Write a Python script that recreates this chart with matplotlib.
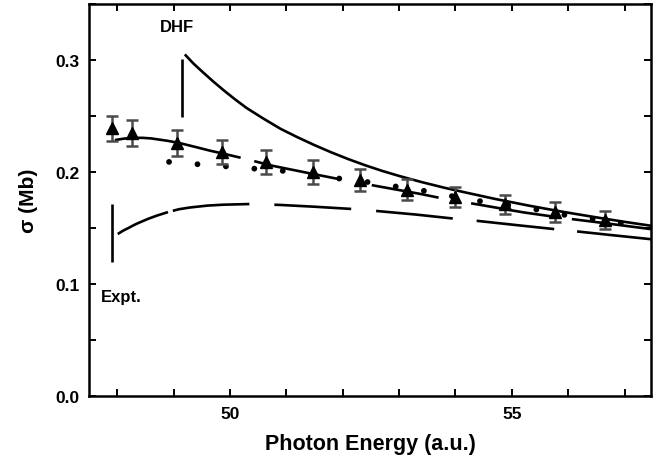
import matplotlib
matplotlib.use('Agg')
import matplotlib.pyplot as plt
from matplotlib.ticker import MultipleLocator, FormatStrFormatter

plt.rcParams['font.family'] = ['Liberation Sans', 'DejaVu Sans']
plt.rcParams['font.weight'] = 'bold'
plt.rcParams['lines.scale_dashes'] = False

# ---- data ----
expt_x = [47.91, 48.27, 49.06, 49.86, 50.64, 51.47, 52.30, 53.14, 53.99, 54.88, 55.76, 56.65]
expt_y = [0.239, 0.235, 0.226, 0.218, 0.209, 0.200, 0.193, 0.184, 0.178, 0.171, 0.164, 0.157]
expt_err = [0.011, 0.0116, 0.0116, 0.0107, 0.0107, 0.0103, 0.0098, 0.0094, 0.0089, 0.0089, 0.0089, 0.0080]

dhf_x = [49.20, 49.35, 49.50, 49.70, 49.90, 50.10, 50.30, 50.60, 50.90, 51.20, 51.50, 51.80,
         52.10, 52.40, 52.70, 53.00, 53.40, 53.80, 54.20, 54.70, 55.30, 55.90, 56.50, 57.00, 57.47]
dhf_y = [0.305, 0.297, 0.290, 0.281, 0.2725, 0.2645, 0.257, 0.2475, 0.2385, 0.231, 0.224, 0.2175,
         0.2115, 0.206, 0.201, 0.1965, 0.191, 0.186, 0.1815, 0.176, 0.170, 0.1645, 0.1595, 0.1555, 0.152]
dhf_thr_x = 49.15
dhf_thr_y = [0.249, 0.301]

dash_x = [47.96, 48.12, 48.28, 48.45, 48.60, 48.90, 49.11, 49.40, 49.65, 49.95, 50.21, 50.76,
          51.40, 52.00, 52.60, 53.37, 53.81, 54.40, 55.20, 55.90, 56.70, 57.47]
dash_y = [0.2285, 0.2298, 0.2305, 0.2305, 0.2300, 0.2278, 0.2258, 0.2222, 0.219, 0.2156, 0.2125, 0.2055,
          0.1990, 0.193, 0.1875, 0.1805, 0.176, 0.171, 0.164, 0.159, 0.154, 0.149]

dot_x = [48.92, 49.41, 49.93, 50.43, 50.94, 51.45, 51.97, 52.45, 52.95, 53.47, 53.98, 54.43,
         55.28, 55.90, 56.60, 57.40]
dot_y = [0.209, 0.207, 0.205, 0.203, 0.201, 0.197, 0.194, 0.191, 0.187, 0.183, 0.178, 0.174,
         0.168, 0.162, 0.157, 0.151]

low_x = [48.01, 48.10, 48.20, 48.30, 48.40, 48.55, 48.70, 48.92, 49.10, 49.29, 49.60, 49.88,
         50.35, 50.89, 51.50, 52.16, 52.60, 53.30, 53.95, 54.40, 55.10, 55.76, 56.20, 56.80, 57.47]
low_y = [0.1446, 0.1475, 0.150, 0.1527, 0.155, 0.1582, 0.161, 0.1645, 0.1668, 0.1683, 0.170, 0.1708,
         0.1714, 0.1706, 0.169, 0.167, 0.1652, 0.162, 0.1585, 0.1563, 0.1525, 0.149, 0.1467, 0.1435, 0.140]
expt_thr_x = 47.91
expt_thr_y = [0.120, 0.171]

PX = 0.72  # points per pixel at 100 dpi

fig = plt.figure(figsize=(6.65, 4.64), dpi=100)
ax = fig.add_axes([89/665, 1-397/464, (651-89)/665, (397-5)/464])

lw = 1.9
# DHF solid
ax.plot(dhf_x, dhf_y, color='black', lw=lw, solid_capstyle='butt', solid_joinstyle='round')
ax.plot([dhf_thr_x, dhf_thr_x], dhf_thr_y, color='black', lw=lw, solid_capstyle='butt')

# dashed curve through experiment
up_dash = [v*PX for v in [128, 14, 86, 34, 68, 33, 85, 17, 120, 20]]
ax.plot(dash_x, dash_y, color='black', lw=lw, linestyle=(0, up_dash), dash_capstyle='butt',
        dash_joinstyle='round')

# dotted curve
ax.plot(dot_x, dot_y, color='black', lw=4.2, linestyle=(0, (0.01, 28.5*PX)), dash_capstyle='round')

# lower long dashed curve
low_dash = [v*PX for v in [55, 5, 77, 25, 77, 25, 77, 24, 78, 23, 90, 20]]
ax.plot(low_x, low_y, color='black', lw=lw, linestyle=(0, low_dash), dash_capstyle='butt',
        dash_joinstyle='round')
ax.plot([expt_thr_x, expt_thr_x], expt_thr_y, color='black', lw=lw, solid_capstyle='butt')

# experiment
ax.errorbar(expt_x, expt_y, yerr=expt_err, fmt='none', ecolor='#4a4a4a', elinewidth=1.8,
            capsize=4.2, capthick=1.8, zorder=4)
ax.plot(expt_x, expt_y, linestyle='none', marker='^', color='black', ms=9, zorder=5)

ax.text(49.06, 0.3295, 'DHF', fontsize=12, fontweight='bold', ha='center', va='center')
ax.text(47.71, 0.0848, 'Expt.', fontsize=12, fontweight='bold', ha='left', va='baseline')

ax.set_xlim(47.5, 57.47)
ax.set_ylim(0, 0.35)
ax.xaxis.set_major_locator(MultipleLocator(5))
ax.xaxis.set_minor_locator(MultipleLocator(1))
ax.yaxis.set_major_locator(MultipleLocator(0.1))
ax.yaxis.set_minor_locator(MultipleLocator(0.05))
ax.yaxis.set_major_formatter(FormatStrFormatter('%.1f'))
ax.tick_params(which='both', direction='in', top=True, right=True, length=5, width=1.4)
ax.tick_params(which='major', labelsize=12.5, pad=7)
for lab in ax.get_xticklabels() + ax.get_yticklabels():
    lab.set_fontweight('bold')
for s in ax.spines.values():
    s.set_linewidth(1.8)

ax.set_xlabel('Photon Energy (a.u.)', fontsize=15.5, fontweight='bold', labelpad=9)
ax.set_ylabel('σ (Mb)', fontsize=15, fontweight='bold', labelpad=12)

fig.savefig('out.png', dpi=100)
